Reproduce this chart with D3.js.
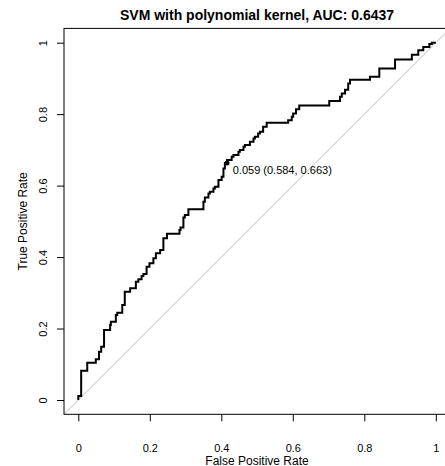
<!DOCTYPE html>
<html lang="en">
<head>
  <meta charset="UTF-8">
  <title>SVM ROC curve</title>
  <script src="https://d3js.org/d3.v7.min.js"></script>
  <style>
    body { margin: 0; background: #fff; }
    svg text { font-family: "Liberation Sans", Arial, Helvetica, sans-serif; fill: #000; }
  </style>
</head>
<body>
<div id="chart-container"></div>
<script>
  // ROC curve vertices (false positive rate, true positive rate)
  const fpr = [0, 0.005, 0.008, 0.025, 0.049, 0.058, 0.064, 0.072, 0.089, 0.091, 0.105, 0.109, 0.123, 0.130,
    0.145, 0.161, 0.168, 0.177, 0.182, 0.191, 0.199, 0.210, 0.217, 0.229, 0.238, 0.248, 0.283, 0.286, 0.294,
    0.298, 0.308, 0.350, 0.354, 0.364, 0.368, 0.378, 0.382, 0.392, 0.401, 0.406, 0.410, 0.416, 0.429, 0.434,
    0.448, 0.452, 0.462, 0.466, 0.480, 0.490, 0.494, 0.503, 0.508, 0.517, 0.527, 0.587, 0.597, 0.601, 0.609,
    0.618, 0.702, 0.732, 0.737, 0.746, 0.755, 0.760, 0.816, 0.842, 0.886, 0.933, 0.951, 0.965, 0.982, 0.989, 1];
  const tpr = [0, 0.011, 0.011, 0.082, 0.104, 0.114, 0.135, 0.149, 0.196, 0.210, 0.219, 0.238, 0.244, 0.266,
    0.303, 0.313, 0.331, 0.338, 0.347, 0.353, 0.373, 0.383, 0.397, 0.411, 0.420, 0.453, 0.465, 0.476, 0.483,
    0.511, 0.518, 0.534, 0.555, 0.567, 0.578, 0.583, 0.592, 0.597, 0.616, 0.625, 0.648, 0.663, 0.672, 0.681,
    0.686, 0.695, 0.700, 0.709, 0.714, 0.723, 0.732, 0.737, 0.746, 0.751, 0.765, 0.776, 0.783, 0.793, 0.802,
    0.814, 0.824, 0.837, 0.849, 0.858, 0.868, 0.886, 0.896, 0.905, 0.928, 0.953, 0.966, 0.979, 0.988, 0.996, 1];

  // best threshold point
  const bestFpr = 0.416;
  const bestTpr = 0.663;
  const bestLabel = "0.059 (0.584, 0.663)";

  const ticks = [0, 0.2, 0.4, 0.6, 0.8, 1];
  const title = "SVM with polynomial kernel, AUC: 0.6437";
  const xTitle = "False Positive Rate";
  const yTitle = "True Positive Rate";

  const W = 445, H = 466;
  const plot = { left: 64, right: 450.1, top: 28.4, bottom: 414.3 };

  const svg = d3.select('#chart-container')
    .append('svg')
    .attr('width', W)
    .attr('height', H);

  // R extends the plot region 4% beyond the data
  const x = d3.scaleLinear().domain([-0.04, 1.04]).range([plot.left, plot.right]);
  const y = d3.scaleLinear().domain([-0.04, 1.04]).range([plot.bottom, plot.top]);

  svg.append('clipPath').attr('id', 'clip')
    .append('rect')
    .attr('x', plot.left).attr('y', plot.top)
    .attr('width', plot.right - plot.left)
    .attr('height', plot.bottom - plot.top);

  // chance diagonal
  svg.append('line')
    .attr('clip-path', 'url(#clip)')
    .attr('x1', x(-0.04)).attr('y1', y(-0.04))
    .attr('x2', x(1.04)).attr('y2', y(1.04))
    .attr('stroke', '#bebebe')
    .attr('stroke-width', 1);

  // ROC curve
  const pts = fpr.map((f, i) => [f, tpr[i]]);
  const line = d3.line()
    .x(d => x(d[0]))
    .y(d => y(d[1]))
    .curve(d3.curveStepBefore);

  svg.append('path')
    .datum(pts)
    .attr('fill', 'none')
    .attr('stroke', '#000')
    .attr('stroke-width', 2)
    .attr('d', line);

  // threshold marker + label
  svg.append('circle')
    .attr('cx', x(bestFpr))
    .attr('cy', y(bestTpr))
    .attr('r', 2.5)
    .attr('fill', '#000');

  svg.append('text')
    .attr('x', x(bestFpr) + 5.7)
    .attr('y', y(bestTpr) + 11)
    .attr('font-size', '11px')
    .text(bestLabel);

  // box
  svg.append('rect')
    .attr('x', plot.left).attr('y', plot.top)
    .attr('width', plot.right - plot.left)
    .attr('height', plot.bottom - plot.top)
    .attr('fill', 'none')
    .attr('stroke', '#000')
    .attr('stroke-width', 1);

  // x axis
  const gx = svg.append('g')
    .attr('transform', `translate(0,${plot.bottom})`)
    .call(d3.axisBottom(x).tickValues(ticks).tickFormat(d3.format('~g'))
      .tickSize(7).tickSizeOuter(0).tickPadding(22.6));
  gx.select('.domain').remove();
  gx.selectAll('line').attr('stroke', '#000');
  gx.selectAll('text').attr('font-size', '11px').attr('font-family', null);

  // y axis, labels turned like R's las = 0
  const gy = svg.append('g')
    .attr('transform', `translate(${plot.left},0)`)
    .call(d3.axisLeft(y).tickValues(ticks).tickFormat(d3.format('~g'))
      .tickSize(7).tickSizeOuter(0));
  gy.select('.domain').remove();
  gy.selectAll('line').attr('stroke', '#000');
  gy.selectAll('text')
    .attr('font-size', '11px')
    .attr('font-family', null)
    .attr('x', null).attr('dy', null)
    .attr('text-anchor', 'middle')
    .attr('transform', 'translate(-17.3,0) rotate(-90)');

  // titles
  const cx = (plot.left + plot.right) / 2;
  const cy = (plot.top + plot.bottom) / 2;

  svg.append('text')
    .attr('x', cx).attr('y', 20)
    .attr('text-anchor', 'middle')
    .attr('font-size', '14px')
    .attr('font-weight', 'bold')
    .text(title);

  svg.append('text')
    .attr('x', cx).attr('y', 464.5)
    .attr('text-anchor', 'middle')
    .attr('font-size', '12px')
    .text(xTitle);

  svg.append('text')
    .attr('transform', `translate(26.7,${cy}) rotate(-90)`)
    .attr('text-anchor', 'middle')
    .attr('font-size', '12px')
    .text(yTitle);
</script>
</body>
</html>
